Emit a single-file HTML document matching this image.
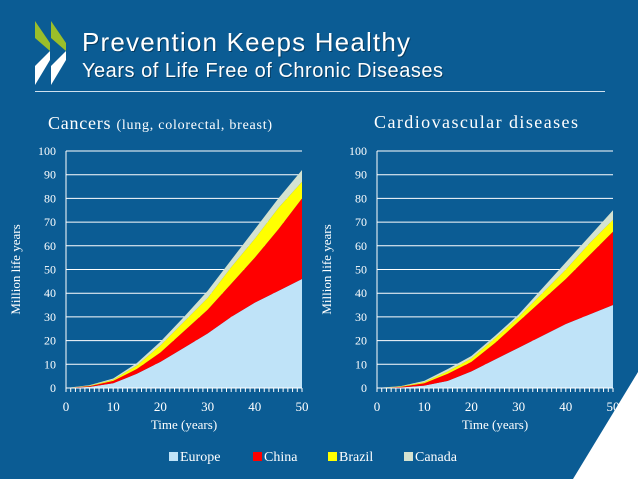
<!DOCTYPE html>
<html><head><meta charset="utf-8"><style>
body{margin:0;width:638px;height:479px;overflow:hidden;background:#0b5c94;font-family:"Liberation Serif",serif;}
svg{display:block}
</style></head><body>
<svg width="638" height="479">
<rect width="638" height="479" fill="#0b5c94"/>
<polygon points="638,372 638,479 573,479" fill="#fff"/>
<g>
<polygon points="35,21 50,43 50,51 35,38" fill="#9bbe2a"/>
<polygon points="50,51 50,60 35,85 35,66" fill="#fff"/>
<polygon points="51,21 66,43 66,51 51,38" fill="#9bbe2a"/>
<polygon points="66,51 66,60 51,85 51,66" fill="#fff"/>
</g>
<text x="83" y="52" fill="#000" opacity=".35" font-family="Liberation Sans, sans-serif" font-size="26" textLength="328">Prevention Keeps Healthy</text>
<text x="82" y="51" fill="#fff" font-family="Liberation Sans, sans-serif" font-size="26" textLength="328">Prevention Keeps Healthy</text>
<text x="83" y="78" fill="#000" opacity=".35" font-family="Liberation Sans, sans-serif" font-size="20" textLength="361">Years of Life Free of Chronic Diseases</text>
<text x="82" y="77" fill="#fff" font-family="Liberation Sans, sans-serif" font-size="20" textLength="361">Years of Life Free of Chronic Diseases</text>
<line x1="35" y1="91.5" x2="605" y2="91.5" stroke="#cfe0ee" stroke-width="1"/>
<text x="48" y="129" fill="#fff" font-size="18" textLength="224">Cancers <tspan font-size="14">(lung, colorectal, breast)</tspan></text>
<text x="374" y="128" fill="#fff" font-size="18" textLength="204">Cardiovascular diseases</text>
<g id="c1"></g><g id="c2"></g>
<g font-size="14" fill="#fff">
<rect x="169" y="452" width="9" height="9" fill="#bfe3f8"/><text x="180" y="461">Europe</text>
<rect x="253" y="452" width="9" height="9" fill="#ff0000"/><text x="264" y="461">China</text>
<rect x="328" y="452" width="9" height="9" fill="#ffff00"/><text x="339" y="461">Brazil</text>
<rect x="404" y="452" width="9" height="9" fill="#d4e2d0"/><text x="415" y="461">Canada</text>
</g>
</svg>
<script>
const years=[0,5,10,15,20,25,30,35,40,45,50];
const yTicks=[0,10,20,30,40,50,60,70,80,90,100];
const xTicks=[0,10,20,30,40,50];
const seriesNames=["Europe","China","Brazil","Canada"];
const colors=["#bfe3f8","#ff0000","#ffff00","#d4e2d0"];
const cancerEurope=[0,0.5,2,6,11,17,23,30,36,41,46];
const cancerChina=[0,0.3,1,2,4,7,10,14,19,26,34];
const cancerBrazil=[0,0.2,0.5,1.5,3,4,5,7,8,9,7];
const cancerCanada=[0,0.2,0.5,1,1.5,2,3,3,4,4,5];
const cardioEurope=[0,0.2,1,3,7,12,17,22,27,31,35];
const cardioChina=[0,0.3,1,3,4,7,11,15,19,25,31];
const cardioBrazil=[0,0.2,0.5,1,1.5,2,2,3,4,5,5];
const cardioCanada=[0,0.1,0.5,1,1,1,1,2,3,3,4];
const NS="http://www.w3.org/2000/svg";
function mk(t,a,p){const e=document.createElementNS(NS,t);for(const k in a)e.setAttribute(k,a[k]);p.appendChild(e);return e;}
function draw(gid,x0,x1,series,slug){
  const g=document.getElementById(gid);
  const y0=388,y1=151;
  const X=v=>x0+(v-0)/50*(x1-x0), Y=v=>y0-(v/100)*(y0-y1);
  yTicks.forEach(t=>{
    if(t>0){const l=mk('line',{x1:x0,x2:x1,y1:Y(t),y2:Y(t),stroke:'#fff','stroke-width':1},g);
    
    }
    const tx=mk('text',{x:x0-10,y:Y(t)+4,'text-anchor':'end',fill:'#fff','font-size':12},g);tx.textContent=t;
    
    
  });
  let base=years.map(()=>0);
  series.forEach((s,i)=>{
    const top=base.map((b,j)=>b+s[j]);
    let d='M'+years.map((yr,j)=>X(yr)+','+Y(top[j])).join('L');
    for(let j=years.length-1;j>=0;j--)d+='L'+X(years[j])+','+Y(base[j]);
    const p=mk('path',{d:d+'Z',fill:colors[i]},g);
    
    
    base=top;
  });
  const ax=mk('line',{x1:x0,x2:x1,y1:y0,y2:y0,stroke:'#fff','stroke-width':1},g);
  
  
  const ay=mk('line',{x1:x0,x2:x0,y1:y0,y2:y1,stroke:'#fff','stroke-width':1},g);
  
  
  for(let v=0;v<=50;v++){const tk=mk('line',{x1:X(v),x2:X(v),y1:y0,y2:y0+4,stroke:'#fff','stroke-width':1},g);
    
    }
  xTicks.forEach(t=>{const tx=mk('text',{x:X(t),y:y0+23,'text-anchor':'middle',fill:'#fff','font-size':13},g);tx.textContent=t;
    
    });
  const xt=mk('text',{x:(x0+x1)/2,y:y0+41,'text-anchor':'middle',fill:'#fff','font-size':13},g);xt.textContent='Time (years)';
  
  
  const yt=mk('text',{x:0,y:0,'text-anchor':'middle',fill:'#fff','font-size':13,transform:`translate(${x0-46},${(y0+y1)/2}) rotate(-90)`},g);yt.textContent='Million life years';
  
  
}
draw('c1',66,302,[cancerEurope,cancerChina,cancerBrazil,cancerCanada],'cancers');
draw('c2',377,613,[cardioEurope,cardioChina,cardioBrazil,cardioCanada],'cardio');
</script>
</body></html>
